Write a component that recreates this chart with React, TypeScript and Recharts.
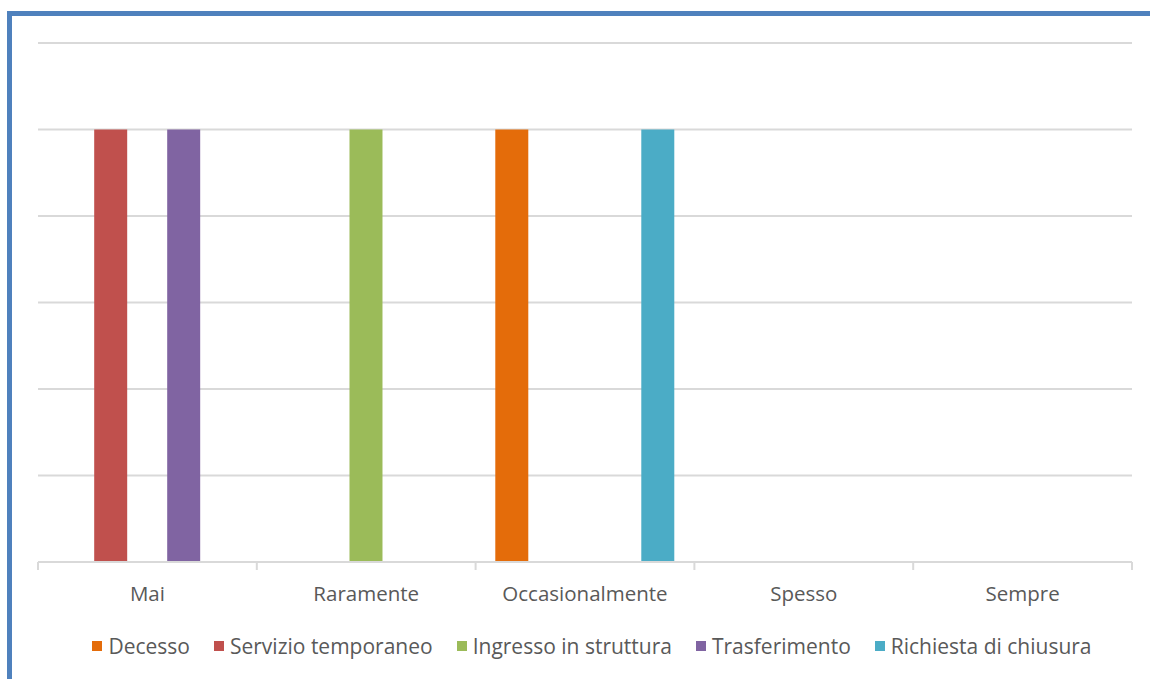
import { BarChart, Bar, XAxis, YAxis, CartesianGrid, Legend } from "recharts";

const categories = ["Mai", "Raramente", "Occasionalmente", "Spesso", "Sempre"];
const decesso = [0, 0, 1, 0, 0];
const servizioTemporaneo = [1, 0, 0, 0, 0];
const ingressoStruttura = [0, 1, 0, 0, 0];
const trasferimento = [1, 0, 0, 0, 0];
const richiestaChiusura = [0, 0, 1, 0, 0];
const yTicks = [0, 0.2, 0.4, 0.6, 0.8, 1, 1.2];
const edgeTicks = [0, 1, 2, 3, 4, 5];

const series = [
  { key: "decesso", name: "Decesso", values: decesso, color: "#E46C0A" },
  { key: "servizio", name: "Servizio temporaneo", values: servizioTemporaneo, color: "#C0504D" },
  { key: "ingresso", name: "Ingresso in struttura", values: ingressoStruttura, color: "#9BBB59" },
  { key: "trasferimento", name: "Trasferimento", values: trasferimento, color: "#8064A2" },
  { key: "richiesta", name: "Richiesta di chiusura", values: richiestaChiusura, color: "#4BACC6" },
];

const data = categories.map((name, i) => {
  const row: Record<string, string | number> = { name, idx: i + 0.5 };
  series.forEach((s) => {
    row[s.key] = s.values[i];
  });
  return row;
});

const FONT = "'Open Sans', sans-serif";
const TEXT = "#595959";
const GRID = "#D9D9D9";

// legend keeps the series order (recharts sorts by name otherwise)
const renderLegend = () => (
  <div
    style={{
      display: "flex",
      justifyContent: "center",
      alignItems: "center",
      height: 40,
      paddingLeft: 14,
      fontFamily: FONT,
      fontSize: 21,
      color: TEXT,
    }}
  >
    {series.map((s, i) => (
      <div key={s.key} style={{ display: "flex", alignItems: "center", marginLeft: i === 0 ? 0 : 24 }}>
        <span style={{ width: 10, height: 10, background: s.color, marginRight: 6, display: "inline-block" }} />
        <span>{s.name}</span>
      </div>
    ))}
  </div>
);

const App = () => {
  return (
    <div
      style={{
        position: "absolute",
        left: 0,
        top: 0,
        width: 1150,
        height: 679,
        overflow: "hidden",
        background: "#fff",
      }}
    >
      <div
        style={{
          position: "absolute",
          left: 7,
          top: 11,
          width: 1200,
          height: 720,
          borderLeft: "5px solid #4F81BD",
          borderTop: "5px solid #4F81BD",
        }}
      />
      <div style={{ position: "absolute", left: 0, top: 0 }}>
        <BarChart
          width={1150}
          height={679}
          data={data}
          margin={{ top: 43, right: 18, bottom: 13, left: 38 }}
          barCategoryGap="9%"
          barGap={3.5}
        >
          <CartesianGrid vertical={false} stroke={GRID} strokeWidth={2} />
          <YAxis hide domain={[0, 1.2]} ticks={yTicks} />
          <XAxis
            xAxisId={0}
            type="number"
            dataKey="idx"
            domain={[0, 5]}
            ticks={edgeTicks}
            height={8}
            axisLine={{ stroke: GRID, strokeWidth: 2 }}
            tickLine={{ stroke: GRID, strokeWidth: 2 }}
            tickSize={8}
            tickFormatter={() => ""}
          />
          <XAxis
            xAxisId="cat"
            dataKey="name"
            height={56}
            axisLine={false}
            tickLine={false}
            tickSize={0}
            tickMargin={16}
            interval={0}
            tick={{ fill: TEXT, fontSize: 20.5, fontFamily: FONT }}
          />
          <Legend verticalAlign="bottom" height={40} content={renderLegend} />
          {series.map((s) => (
            <Bar
              key={s.key}
              xAxisId="cat"
              dataKey={s.key}
              name={s.name}
              fill={s.color}
              isAnimationActive={false}
            />
          ))}
        </BarChart>
      </div>
    </div>
  );
};

export default App;
